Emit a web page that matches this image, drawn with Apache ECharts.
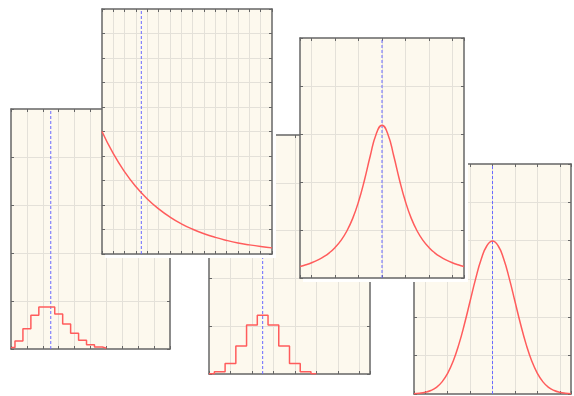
<!DOCTYPE html>
<html><head><meta charset="utf-8">
<script src="https://cdn.jsdelivr.net/npm/echarts@6/dist/echarts.min.js"></script>
<style>html,body{margin:0;padding:0;background:#fff}#c{width:574px;height:396px}</style>
</head><body><div id="c"></div>
<script>
// Panel 1: Poisson (lambda = 5)
const poissonK = [0,1,2,3,4,5,6,7,8,9,10,11,12];
const poissonP = [0.0067,0.0337,0.0842,0.1404,0.1755,0.1755,0.1462,0.1044,0.0653,0.0363,0.0181,0.0082,0.0034];
const poissonMean = 5;
// Panel 2: Exponential
const expX = [0,1,2,3,4,5,6,7,8,9,10,11,12,13,14,15];
const expY = [0.2,0.1637,0.1341,0.1098,0.0899,0.0736,0.0602,0.0493,0.0404,0.0331,0.0271,0.0222,0.0181,0.0149,0.0122,0.0100];
const expMarker = 3.47;
// Panel 3: Binomial (n = 10, p = 0.5)
const binomK = [0,1,2,3,4,5,6,7,8,9,10];
const binomP = [0.001,0.0098,0.0439,0.1172,0.2051,0.2461,0.2051,0.1172,0.0439,0.0098,0.001];
const binomMean = 5;
// Panel 4: Cauchy
const cauchyX = [-3.5,-3.25,-3,-2.75,-2.5,-2.25,-2,-1.75,-1.5,-1.25,-1,-0.75,-0.5,-0.25,0,0.25,0.5,0.75,1,1.25,1.5,1.75,2,2.25,2.5,2.75,3,3.25,3.5];
const cauchyY = [0.0240,0.0275,0.0318,0.0372,0.0439,0.0525,0.0637,0.0784,0.0979,0.1242,0.1592,0.2037,0.2546,0.2996,0.3183,0.2996,0.2546,0.2037,0.1592,0.1242,0.0979,0.0784,0.0637,0.0525,0.0439,0.0372,0.0318,0.0275,0.0240];
const cauchyCenter = 0;
// Panel 5: Normal
const normalX = [-3.5,-3.25,-3,-2.75,-2.5,-2.25,-2,-1.75,-1.5,-1.25,-1,-0.75,-0.5,-0.25,0,0.25,0.5,0.75,1,1.25,1.5,1.75,2,2.25,2.5,2.75,3,3.25,3.5];
const normalY = [0.0009,0.0020,0.0044,0.0091,0.0175,0.0317,0.0540,0.0863,0.1295,0.1826,0.2420,0.3011,0.3521,0.3867,0.3989,0.3867,0.3521,0.3011,0.2420,0.1826,0.1295,0.0863,0.0540,0.0317,0.0175,0.0091,0.0044,0.0020,0.0009];
const normalMean = 0;
// Axis ranges / grid steps
const xRanges = [[0,20],[0,15],[0,15],[-3.5,3.5],[-3.5,3.5]];
const xSteps = [2,1,2,1,1];
const yRanges = [[0,1],[0,0.4],[0,1],[0,0.5],[0,0.6]];
const ySteps = [0.2,0.04,0.2,0.1,0.1];

const panels = [
  {x: poissonK, y: poissonP, mark: poissonMean, step: 'middle', rect: [11,109,159,240], z: 0},
  {x: expX, y: expY, mark: expMarker, step: false, rect: [102,9,170,245], z: 30},
  {x: binomK, y: binomP, mark: binomMean, step: 'middle', rect: [209,135,161,239], z: 10},
  {x: cauchyX, y: cauchyY, mark: cauchyCenter, step: false, rect: [300,38,164,240], z: 40},
  {x: normalX, y: normalY, mark: normalMean, step: false, rect: [414,164,157,230], z: 20}
];

const AXIS = '#666666';
function scaleCfg(range, st) {
  const mn = range[0], mx = range[1];
  const aligned = Math.abs(mn / st - Math.round(mn / st)) < 1e-9;
  return aligned ? {min: mn, max: mx, interval: st}
                 : {min: mn, max: mx, splitNumber: Math.round((mx - mn) / st), minInterval: st, maxInterval: st};
}
function axis(i, pos, primary, range, st, zb) {
  return Object.assign({
    type: 'value', gridIndex: i, position: pos, z: zb + (primary ? 1 : 3),
    axisLine: {show: true, onZero: false, lineStyle: {color: AXIS, width: 1.5}},
    axisTick: {show: true, inside: true, length: 3, lineStyle: {color: AXIS, width: 1}},
    axisLabel: {show: false},
    splitLine: {show: primary, showMinLine: false, showMaxLine: false, lineStyle: {color: '#e4e1d9', width: 1}}
  }, scaleCfg(range, st));
}

const grid = [], xAxis = [], yAxis = [], series = [], graphic = [];
panels.forEach((p, i) => {
  const r = p.rect, zb = p.z;
  // white margin to the right and below each panel
  graphic.push({type: 'rect', z: zb - 1, silent: true,
    shape: {x: r[0] + 3, y: r[1] + 3, width: r[2] + 1, height: r[3] + 1},
    style: {fill: '#ffffff', stroke: null}});
  grid.push({left: r[0], top: r[1], width: r[2], height: r[3], show: true,
    backgroundColor: '#fdf9ee', borderWidth: 0, z: zb});
  xAxis.push(axis(i, 'bottom', true, xRanges[i], xSteps[i], zb));
  xAxis.push(axis(i, 'top', false, xRanges[i], xSteps[i], zb));
  yAxis.push(axis(i, 'left', true, yRanges[i], ySteps[i], zb + 1));
  yAxis.push(axis(i, 'right', false, yRanges[i], ySteps[i], zb));
  // vertical dashed marker (mean / centre)
  series.push({
    type: 'line', xAxisIndex: 2 * i, yAxisIndex: 2 * i,
    data: [[p.mark, yRanges[i][0]], [p.mark, yRanges[i][1]]],
    showSymbol: false, symbol: 'none', z: zb + 5, silent: true,
    lineStyle: {color: '#6a6aff', type: [3, 2], width: 1},
    emphasis: {disabled: true}
  });
  series.push({
    type: 'line', xAxisIndex: 2 * i, yAxisIndex: 2 * i,
    data: p.x.map((v, j) => [v, p.y[j]]),
    step: p.step, smooth: p.step ? false : true,
    showSymbol: false, symbol: 'none', z: zb + 6, silent: true,
    lineStyle: {color: '#ff5c5c', width: 1.5},
    emphasis: {disabled: true}
  });
});

const chart = echarts.init(document.getElementById('c'), null, {renderer: 'canvas'});
chart.setOption({animation: false, backgroundColor: '#ffffff', grid, xAxis, yAxis, series, graphic});
</script>
</body></html>
